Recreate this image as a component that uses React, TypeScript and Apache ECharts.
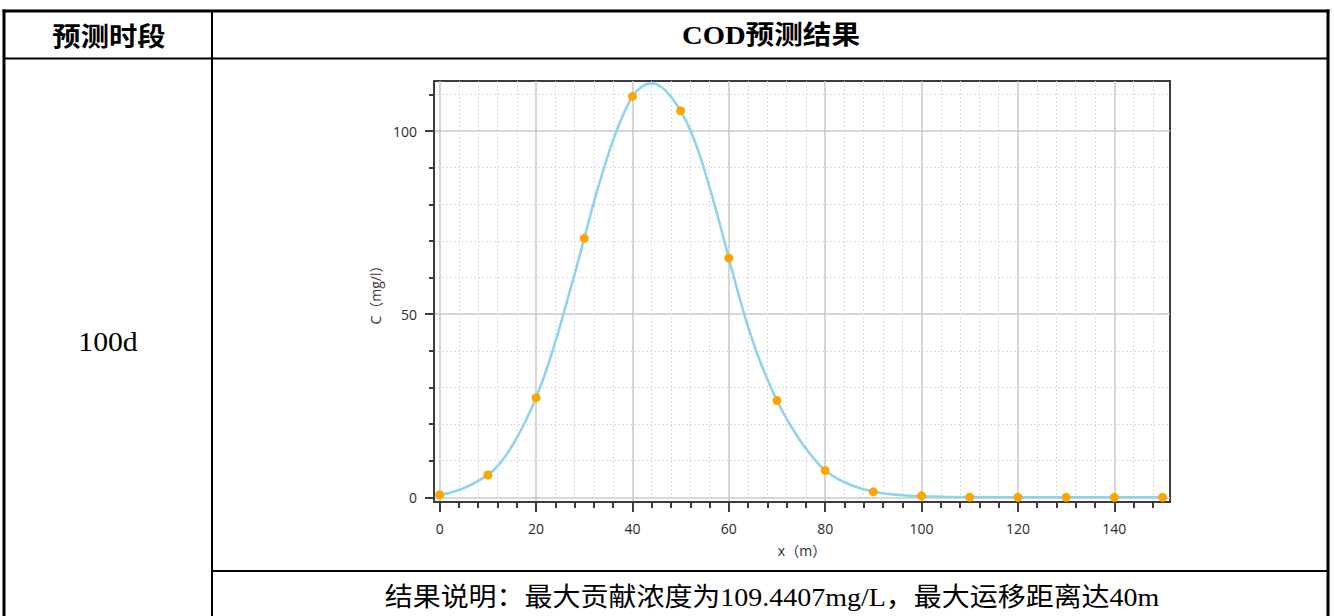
import React, { useEffect, useRef } from "react";
import * as echarts from "echarts";

// ---- data ----
// sampled points (orange markers)
const distances = [0, 10, 20, 30, 40, 50, 60, 70, 80, 90, 100, 110, 120, 130, 140, 150];
const concentration = [0.7, 6.1, 27.2, 70.7, 109.4407, 105.5, 65.3, 26.4, 7.3, 1.5, 0.4, 0.05, 0, 0, 0, 0];

// curve (blue line)
const curveX = [
  0, 2, 4, 6, 8, 10, 12, 14, 16, 18, 20, 22, 24, 26, 28, 30, 32, 34, 36, 38, 40, 42, 44, 46, 48, 50,
  52, 54, 56, 58, 60, 62, 64, 66, 68, 70, 72, 74, 76, 78, 80, 82, 84, 86, 88, 90, 92, 94, 96, 98, 100,
  105, 110, 115, 120, 130, 140, 150,
];
const curveC = [
  0.7, 1.2, 2.0, 3.1, 4.5, 6.1, 8.5, 11.9, 16.2, 21.3, 27.2, 34.2, 42.4, 51.5, 60.9, 70.7, 80.5, 89.5,
  97.5, 104.2, 109.4, 112.2, 113.0, 112.0, 109.3, 105.5, 100.3, 93.3, 84.7, 75.3, 65.3, 55.5, 46.5, 38.8,
  32.2, 26.4, 21.4, 17.1, 13.3, 10.0, 7.3, 5.5, 4.1, 3.0, 2.2, 1.5, 1.1, 0.8, 0.55, 0.4, 0.3,
  0.15, 0.07, 0.03, 0, 0, 0, 0,
];

const xTickValues = [0, 20, 40, 60, 80, 100, 120, 140];
const yTickValues = [0, 50, 100];

const headerPeriod = "预测时段";
const headerResult = "COD预测结果";
const periodLabel = "100d";
const resultNote = "结果说明：最大贡献浓度为109.4407mg/L，最大运移距离达40m";
const xAxisName = "x（m）";
const yAxisName = "C（mg/l）";

const W = 1334;
const H = 616;

export default function App() {
  const ref = useRef<HTMLDivElement>(null);

  useEffect(() => {
    if (!ref.current) return;
    const chart = echarts.init(ref.current, undefined, { renderer: "svg", width: W, height: H });

    const axisFont = "'Open Sans', 'Noto Sans CJK SC', sans-serif";
    const textColor = "#2b2b2b";
    const axisColor = "#3c3c3c";
    const black = "#000";

    const line = (x1: number, y1: number, x2: number, y2: number, w: number) => ({
      type: "line",
      silent: true,
      shape: { x1, y1, x2, y2 },
      style: { stroke: black, lineWidth: w },
    });

    const text = (x: number, y: number, t: string, size: number, family: string, bold: boolean, sx: number) => ({
      type: "text",
      silent: true,
      x,
      y,
      scaleX: sx,
      style: {
        text: t,
        fill: black,
        fontSize: size,
        fontWeight: bold ? "bold" : "normal",
        fontFamily: family,
        align: "center",
        verticalAlign: "middle",
      },
    });

    chart.setOption({
      animation: false,
      backgroundColor: "#fff",
      grid: {
        left: 434,
        top: 81,
        right: W - 1170,
        bottom: H - 502,
        show: true,
        borderColor: axisColor,
        borderWidth: 2,
        backgroundColor: "transparent",
      },
      xAxis: {
        type: "value",
        min: -1.18,
        max: 151.56,
        splitNumber: 8,
        name: xAxisName,
        nameLocation: "middle",
        nameGap: 41,
        nameTextStyle: { color: textColor, fontSize: 14, fontFamily: axisFont },
        axisLine: { show: true, onZero: false, lineStyle: { color: axisColor, width: 2 } },
        axisTick: { show: true, length: 10, customValues: xTickValues, lineStyle: { color: axisColor, width: 2 } },
        minorTick: { show: true, splitNumber: 5, length: 6, lineStyle: { color: axisColor, width: 2 } },
        axisLabel: {
          show: true,
          margin: 19,
          customValues: xTickValues,
          color: textColor,
          fontSize: 14,
          fontFamily: axisFont,
        },
        splitLine: { show: true, lineStyle: { color: "#c8c8c8", width: 1.5 } },
        minorSplitLine: { show: true, lineStyle: { color: "#dcdcdc", width: 1, type: [2, 2] } },
      },
      yAxis: {
        type: "value",
        min: -1.28,
        max: 113.65,
        splitNumber: 2,
        name: yAxisName,
        nameLocation: "middle",
        nameGap: 47,
        nameRotate: 90,
        nameTextStyle: { color: "#3a2f45", fontSize: 14, fontFamily: axisFont },
        axisLine: { show: true, onZero: false, lineStyle: { color: axisColor, width: 2 } },
        axisTick: { show: true, length: 9, customValues: yTickValues, lineStyle: { color: axisColor, width: 2 } },
        minorTick: { show: true, splitNumber: 5, length: 5, lineStyle: { color: axisColor, width: 2 } },
        axisLabel: {
          show: true,
          margin: 17,
          customValues: yTickValues,
          color: textColor,
          fontSize: 14,
          fontFamily: axisFont,
        },
        splitLine: { show: true, lineStyle: { color: "#c8c8c8", width: 1.5 } },
        minorSplitLine: { show: true, lineStyle: { color: "#dcdcdc", width: 1, type: [2, 2] } },
      },
      series: [
        {
          type: "line",
          data: curveX.map((x, i) => [x, curveC[i]]),
          smooth: 0.3,
          showSymbol: false,
          lineStyle: { color: "#8fd3ec", width: 2.6 },
          z: 4,
        },
        {
          type: "scatter",
          data: distances.map((x, i) => [x, concentration[i]]),
          symbol: "circle",
          symbolSize: 9,
          itemStyle: { color: "#ffa500", borderWidth: 0, opacity: 1 },
          z: 5,
        },
      ],
      graphic: [
        line(2.5, 11, 1329.5, 11, 3),
        line(4, 9.5, 4, H, 3),
        line(1328, 9.5, 1328, H, 3),
        line(4, 58.5, 1328, 58.5, 2),
        line(212, 11, 212, H, 2),
        line(212, 571, 1328, 571, 2),
        text(109, 35, headerPeriod, 26, "'Noto Sans CJK SC', sans-serif", true, 1.09),
        text(771, 35, headerResult, 26, "'Liberation Serif', 'Noto Sans CJK SC', serif", true, 1.1),
        text(108, 342, periodLabel, 27, "'Liberation Serif', serif", false, 1.1),
        text(772, 597, resultNote, 26, "'Liberation Serif', 'Noto Sans CJK SC', serif", false, 1.076),
      ],
    });

    return () => chart.dispose();
  }, []);

  return (
    <div
      ref={ref}
      style={{ position: "fixed", left: 0, top: 0, width: W, height: H, background: "#fff" }}
    />
  );
}
